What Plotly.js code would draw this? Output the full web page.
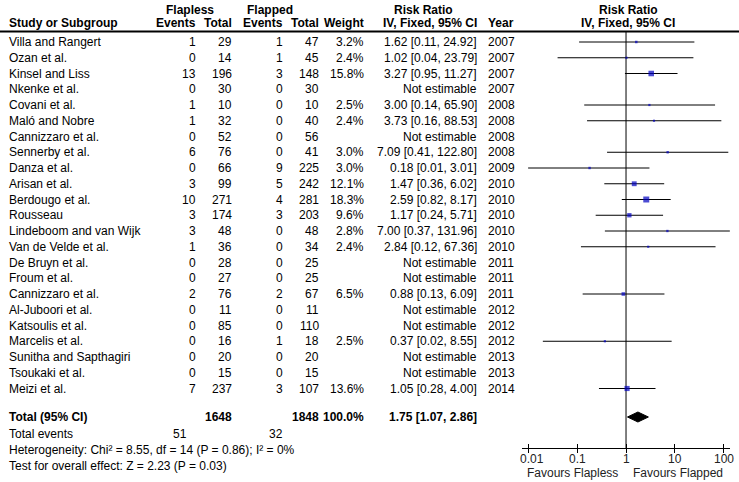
<!DOCTYPE html>
<html>
<head>
<meta charset="utf-8">
<script src="https://cdn.plot.ly/plotly-3.0.1.min.js"></script>
<style>html,body{margin:0;padding:0;background:#fff;}#chart{width:739px;height:482px;}</style>
</head>
<body>
<div id="chart"></div>
<script>
// ---------------- data ----------------
const studies = ["Villa and Rangert","Ozan et al.","Kinsel and Liss","Nkenke et al.","Covani et al.","Maló and Nobre","Cannizzaro et al.","Sennerby et al.","Danza et al.","Arisan et al.","Berdougo et al.","Rousseau","Lindeboom and van Wijk","Van de Velde et al.","De Bruyn et al.","Froum et al.","Cannizzaro et al.","Al-Juboori et al.","Katsoulis et al.","Marcelis et al.","Sunitha and Sapthagiri","Tsoukaki et al.","Meizi et al."];
const flaplessEvents = [1,0,13,0,1,1,0,6,0,3,10,3,3,1,0,0,2,0,0,0,0,0,7];
const flaplessTotal  = [29,14,196,30,10,32,52,76,66,99,271,174,48,36,28,27,76,11,85,16,20,15,237];
const flappedEvents  = [1,1,3,0,0,0,0,0,9,5,4,3,0,0,0,0,2,0,0,1,0,0,3];
const flappedTotal   = [47,45,148,30,10,40,56,41,225,242,281,203,48,34,25,25,67,11,110,18,20,15,107];
const weights = [3.2,2.4,15.8,null,2.5,2.4,null,3.0,3.0,12.1,18.3,9.6,2.8,2.4,null,null,6.5,null,null,2.5,null,null,13.6];
const riskRatio = [1.62,1.02,3.27,null,3.00,3.73,null,7.09,0.18,1.47,2.59,1.17,7.00,2.84,null,null,0.88,null,null,0.37,null,null,1.05];
const ciLow  = [0.11,0.04,0.95,null,0.14,0.16,null,0.41,0.01,0.36,0.82,0.24,0.37,0.12,null,null,0.13,null,null,0.02,null,null,0.28];
const ciHigh = [24.92,23.79,11.27,null,65.90,88.53,null,122.80,3.01,6.02,8.17,5.71,131.96,67.36,null,null,6.09,null,null,8.55,null,null,4.00];
const years = [2007,2007,2007,2007,2008,2008,2008,2008,2009,2010,2010,2010,2010,2010,2011,2011,2011,2012,2012,2012,2013,2013,2014];

const totalFlapless = 1648, totalFlapped = 1848, totalWeight = 100.0;
const totalEventsFlapless = 51, totalEventsFlapped = 32;
const totalRR = 1.75, totalLow = 1.07, totalHigh = 2.86;
const heterogeneityText = "Heterogeneity: Chi² = 8.55, df = 14 (P = 0.86); I² = 0%";
const overallText = "Test for overall effect: Z = 2.23 (P = 0.03)";
const tickValues = [0.01, 0.1, 1, 10, 100];
const tickLabels = ["0.01", "0.1", "1", "10", "100"];
const favoursLeft = "Favours Flapless", favoursRight = "Favours Flapped";

// ---------------- layout constants ----------------
const W = 739, H = 482;
const ROW0 = 42, ROWH = 15.75;       // pixel centre of first row, row pitch
const AXIS_PX = 448, HEADLINE_PX = 31.5;
const TOTAL_PX = 417, TEV_PX = 434, HET_PX = 450, TEST_PX = 466;
const TICKLAB_PX = 459, FAV_PX = 473;
const H1_PX = 10, H2_PX = 22.5;
const FONT = "Liberation Sans, Arial, sans-serif";
const col = {name: 8, evF: 197, totF: 233, evP: 284, totP: 320, wt: 365, rr: 478, year: 487, tev: 188};
const rowOf = p => (p - ROW0) / ROWH;
const py = p => 1 - p / H;
const px = x => x / W;

const ann = [];
function txt(x, ypx, text, anchor, bold, extra) {
  ann.push(Object.assign({
    xref: 'paper', yref: 'paper', x: px(x), y: py(ypx), text: bold ? '<b>' + text + '</b>' : text,
    xanchor: anchor, yanchor: 'middle', showarrow: false, borderpad: 0,
    font: {family: FONT, size: 12, color: '#000'}
  }, extra || {}));
}

// headers
txt(190, H1_PX, 'Flapless', 'center', true);
txt(270, H1_PX, 'Flapped', 'center', true);
txt(424, H1_PX, 'Risk Ratio', 'center', true);
txt(628, H1_PX, 'Risk Ratio', 'center', true);
txt(col.name, H2_PX, 'Study or Subgroup', 'left', true);
txt(col.evF, H2_PX, 'Events', 'right', true);
txt(col.totF, H2_PX, 'Total', 'right', true);
txt(col.evP, H2_PX, 'Events', 'right', true);
txt(col.totP, H2_PX, 'Total', 'right', true);
txt(col.wt, H2_PX, 'Weight', 'right', true);
txt(col.rr, H2_PX, 'IV, Fixed, 95% CI', 'right', true);
txt(col.year, H2_PX, 'Year', 'left', true);
txt(628, H2_PX, 'IV, Fixed, 95% CI', 'center', true);

// study rows
studies.forEach((s, i) => {
  const y = ROW0 + i * ROWH;
  txt(col.name, y, s, 'left');
  txt(col.evF, y, String(flaplessEvents[i]), 'right');
  txt(col.totF, y, String(flaplessTotal[i]), 'right');
  txt(col.evP, y, String(flappedEvents[i]), 'right');
  txt(col.totP, y, String(flappedTotal[i]), 'right');
  if (weights[i] !== null) txt(col.wt, y, weights[i].toFixed(1) + '%', 'right');
  const rrText = riskRatio[i] === null ? 'Not estimable'
    : riskRatio[i].toFixed(2) + ' [' + ciLow[i].toFixed(2) + ', ' + ciHigh[i].toFixed(2) + ']';
  txt(col.rr, y, rrText, 'right');
  txt(col.year, y, String(years[i]), 'left');
});

// totals
txt(col.name, TOTAL_PX, 'Total (95% CI)', 'left', true);
txt(col.totF, TOTAL_PX, String(totalFlapless), 'right', true);
txt(col.totP, TOTAL_PX, String(totalFlapped), 'right', true);
txt(col.wt, TOTAL_PX, totalWeight.toFixed(1) + '%', 'right', true);
txt(col.rr, TOTAL_PX, totalRR.toFixed(2) + ' [' + totalLow.toFixed(2) + ', ' + totalHigh.toFixed(2) + ']', 'right', true);
txt(col.name, TEV_PX, 'Total events', 'left');
txt(col.tev, TEV_PX, String(totalEventsFlapless), 'right');
txt(col.evP, TEV_PX, String(totalEventsFlapped), 'right');
txt(col.name, HET_PX, heterogeneityText, 'left');
txt(col.name, TEST_PX, overallText, 'left');
const greyFont = {family: FONT, size: 12, color: '#222'};
txt(619, FAV_PX, favoursLeft, 'right', false, {font: greyFont});
txt(632, FAV_PX, favoursRight, 'left', false, {font: greyFont});

// tick labels placed through the log x axis (annotation x = log10 value on a log axis)
tickValues.forEach((v, k) => {
  ann.push({xref: 'x', yref: 'paper', x: Math.log10(v), y: py(TICKLAB_PX), text: tickLabels[k],
    xanchor: 'center', yanchor: 'middle', showarrow: false, borderpad: 0, xshift: k === 0 ? 4 : 0,
    font: greyFont});
});

// ---------------- traces ----------------
const ciX = [], ciY = [], mX = [], mY = [], mS = [];
riskRatio.forEach((r, i) => {
  if (r === null) return;
  ciX.push(ciLow[i], ciHigh[i], null); ciY.push(i, i, null);
  mX.push(r); mY.push(i); mS.push(1.4 * Math.sqrt(weights[i]));
});
const totalRow = rowOf(TOTAL_PX);
const dh = 5 / ROWH;

const traces = [
  {x: [1, 1], y: [rowOf(HEADLINE_PX), rowOf(AXIS_PX)], mode: 'lines', line: {color: '#000', width: 1}, hoverinfo: 'skip'},
  {x: ciX, y: ciY, mode: 'lines', line: {color: '#000', width: 1}, connectgaps: false, hoverinfo: 'skip'},
  {x: mX, y: mY, mode: 'markers', marker: {symbol: 'square', size: mS, color: '#0000C0', line: {width: 0}}},
  {x: [totalLow, totalRR, totalHigh, totalRR, totalLow], y: [totalRow, totalRow - dh, totalRow, totalRow + dh, totalRow],
   mode: 'lines', fill: 'toself', fillcolor: '#000', line: {color: '#000', width: 1}, hoverinfo: 'skip'},
  {x: [1], y: [0], xaxis: 'x2', mode: 'markers', marker: {opacity: 0}, hoverinfo: 'skip'}
];

const xr = [Math.log10(0.0075), Math.log10(133)];
const layout = {
  width: W, height: H, margin: {l: 0, r: 0, t: 0, b: 0}, showlegend: false,
  paper_bgcolor: '#fff', plot_bgcolor: 'rgba(0,0,0,0)',
  font: {family: FONT, size: 12, color: '#000'},
  xaxis: {type: 'log', domain: [522 / W, 730 / W], range: xr, showgrid: false, zeroline: false,
    showline: true, linecolor: '#000', linewidth: 1, ticks: 'outside', ticklen: 4, tickcolor: '#000', tickwidth: 1,
    tickvals: tickValues, showticklabels: false, anchor: 'y'},
  xaxis2: {type: 'log', domain: [522 / W, 730 / W], range: xr, overlaying: 'x', anchor: 'y', side: 'bottom',
    showgrid: false, zeroline: false, showline: false, ticks: 'inside', ticklen: 4, tickcolor: '#000', tickwidth: 1,
    tickvals: tickValues, showticklabels: false},
  yaxis: {domain: [1 - AXIS_PX / H, 1], range: [rowOf(AXIS_PX), rowOf(0)], visible: false, showgrid: false, zeroline: false},
  shapes: [{type: 'line', xref: 'paper', yref: 'paper', x0: 0, x1: 1, y0: py(HEADLINE_PX), y1: py(HEADLINE_PX),
    line: {color: '#000', width: 2}}],
  annotations: ann
};

Plotly.newPlot('chart', traces, layout, {staticPlot: true, displayModeBar: false});
</script>
</body>
</html>
